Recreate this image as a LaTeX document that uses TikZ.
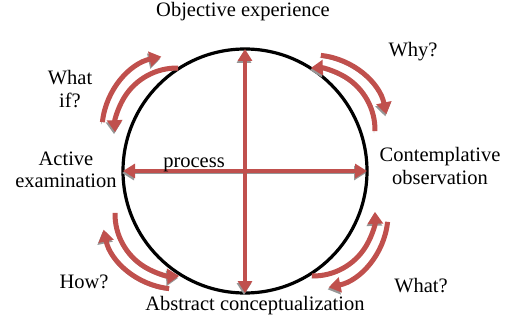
\documentclass[tikz,border=0pt]{standalone}
\usepackage{fontspec}
\setmainfont{Liberation Serif}
\usetikzlibrary{arrows.meta}
\definecolor{arrowred}{RGB}{192,80,77}
\definecolor{shadowgray}{RGB}{150,150,150}
\tikzset{
  cycle/.style={draw=black, circle, line width=3.2pt, minimum size=244pt, inner sep=0pt, outer sep=0pt},
  shadowed/.style={preaction={draw=shadowgray, transform canvas={xshift=-1pt,yshift=-2pt}}},
  cross arrow/.style={draw=arrowred, line width=4pt, {Triangle[width=14pt,length=12pt]}-{Triangle[width=14pt,length=12pt]}, shadowed},
  turn arrow/.style={draw=arrowred, line width=5pt, -{Triangle[width=15pt,length=12pt]}, shadowed},
  labeltext/.style={font=\fontsize{20.5}{23}\selectfont, align=center, inner sep=0pt, anchor=base}
}
\begin{document}
\begin{tikzpicture}[x=1pt,y=1pt]
\useasboundingbox (0,0) rectangle (507,322);
% the cycle
\node[cycle] (cyc) at (245,151) {};
% cross arrows
\draw[cross arrow] (cyc.west) -- (cyc.east);
\draw[cross arrow] (cyc.north) -- (cyc.south);

% pairs of turning arrows
\foreach \q/\cx/\cy in {0/313/192, 90/177/192, 180/177/108, 270/313/108} {
  \coordinate (pair\q) at (\cx,\cy);
  \draw[turn arrow] ([shift={(\q-1:62)}]pair\q) arc[start angle=\q-1, end angle=\q+92, radius=62];
  \draw[turn arrow] ([shift={(\q+84:75)}]pair\q) arc[start angle=\q+84, end angle=\q+12, radius=75];
}

% labels (base of a two-line label is its last line)
\node[labeltext] (objective) at (243,305) {Objective experience};
\node[labeltext] (abstract) at (255,12) {Abstract conceptualization};
\node[labeltext] (active) at (66,134) {Active\\examination};
\node[labeltext] (contemplative) at (440,137) {Contemplative\\observation};
\node[labeltext] (process) at (194,154) {process};
\node[labeltext] (why) at (413,265) {Why?};
\node[labeltext] (whatif) at (70,214) {What\\if?};
\node[labeltext] (how) at (84,34) {How?};
\node[labeltext] (what) at (421,30) {What?};
\end{tikzpicture}
\end{document}
